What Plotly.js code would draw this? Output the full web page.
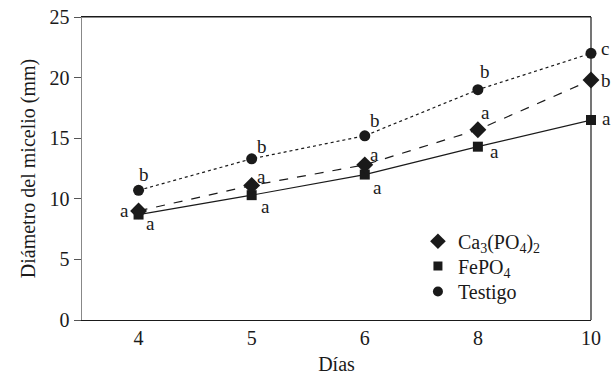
<!DOCTYPE html>
<html>
<head>
<meta charset="utf-8">
<script src="https://cdn.plot.ly/plotly-3.0.1.min.js"></script>
<style>html,body{margin:0;padding:0;background:#fff}#chart{width:611px;height:379px}</style>
</head>
<body>
<div id="chart"></div>
<script>
const dias = ["4", "5", "6", "8", "10"];
const testigo = [10.7, 13.3, 15.2, 19.0, 22.0];
const ca3po4 = [9.0, 11.1, 12.8, 15.7, 19.8];
const fepo4 = [8.7, 10.3, 12.0, 14.3, 16.5];
const letrasTestigo = ["b", "b", "b", "b", "c"];
const letrasCa = ["a", "a", "a", "a", "b"];
const letrasFe = ["a", "a", "a", "a", "a"];
const nombres = ["Ca<sub>3</sub>(PO<sub>4</sub>)<sub>2</sub>", "FePO<sub>4</sub>", "Testigo"];

const FONT = "Liberation Serif, Times New Roman, serif";
const black = "#1a1a1a";
const FS = 20;

const traces = [
  {x: dias, y: fepo4, mode: "lines+markers", showlegend: false, cliponaxis: false,
   line: {color: black, width: 1.2, dash: "solid"}, marker: {symbol: "square", size: 10, color: black}},
  {x: dias, y: ca3po4, mode: "lines+markers", showlegend: false, cliponaxis: false,
   line: {color: black, width: 1.2, dash: "dash"}, marker: {symbol: "diamond", size: 13, color: black}},
  {x: dias, y: testigo, mode: "lines+markers", showlegend: false, cliponaxis: false,
   line: {color: black, width: 1.2, dash: "dot"}, marker: {symbol: "circle", size: 11, color: black}},
  {x: [null], y: [null], mode: "markers", name: nombres[0], legend: "legend", marker: {symbol: "diamond", size: 12, color: black}},
  {x: [null], y: [null], mode: "markers", name: nombres[1], legend: "legend2", marker: {symbol: "square", size: 9, color: black}},
  {x: [null], y: [null], mode: "markers", name: nombres[2], legend: "legend3", marker: {symbol: "circle", size: 10, color: black}}
];

const offT = [[5,-16],[10,-12],[10,-15],[7,-18],[14,-5]];
const offC = [[-14,0],[10,-9],[10,-10],[8,-17],[15,0]];
const offF = [[12,9],[14,11],[13,13],[17,5],[15,-2]];
const annotations = [];
function addLetters(vals, letters, offs) {
  dias.forEach((d, i) => {
    annotations.push({x: i, y: vals[i], xref: "x", yref: "y", text: letters[i], showarrow: false,
      xshift: offs[i][0], yshift: -offs[i][1], font: {family: FONT, size: 19, color: black}});
  });
}
addLetters(testigo, letrasTestigo, offT);
addLetters(ca3po4, letrasCa, offC);
addLetters(fepo4, letrasFe, offF);

function leg(y) {
  return {x: 0.66, y: y, xanchor: "left", yanchor: "middle", bgcolor: "rgba(0,0,0,0)",
    font: {family: FONT, size: FS, color: black}, itemwidth: 30};
}

const layout = {
  width: 611, height: 379,
  margin: {l: 82, r: 20, t: 17, b: 59},
  paper_bgcolor: "#fff", plot_bgcolor: "#fff",
  font: {family: FONT, size: FS, color: black},
  showlegend: true,
  legend: leg(0.26),
  legend2: leg(0.178),
  legend3: leg(0.094),
  xaxis: {type: "category", range: [-0.5, 4], showgrid: false, zeroline: false,
    showline: true, linecolor: black, linewidth: 1.2, mirror: true, ticks: "",
    tickfont: {family: FONT, size: FS, color: black},
    title: {text: "Días", font: {family: FONT, size: FS, color: black}, standoff: 8}},
  yaxis: {range: [0, 25], dtick: 5, showgrid: false, zeroline: false,
    showline: true, linecolor: "#888", linewidth: 1.5, mirror: false,
    ticks: "outside", ticklen: 7, tickcolor: "#555", tickwidth: 1,
    tickfont: {family: FONT, size: FS, color: black},
    title: {text: "Diámetro del micelio (mm)", font: {family: FONT, size: FS, color: black}, standoff: 8}},
  shapes: [
    {type: "line", xref: "paper", yref: "paper", x0: 0, x1: 1, y0: 1, y1: 1, line: {color: black, width: 1.2}},
    {type: "line", xref: "paper", yref: "paper", x0: 1, x1: 1, y0: 0, y1: 1, line: {color: black, width: 1.2}}
  ],
  annotations: annotations
};

Plotly.newPlot("chart", traces, layout, {displayModeBar: false, staticPlot: true});
</script>
</body>
</html>
